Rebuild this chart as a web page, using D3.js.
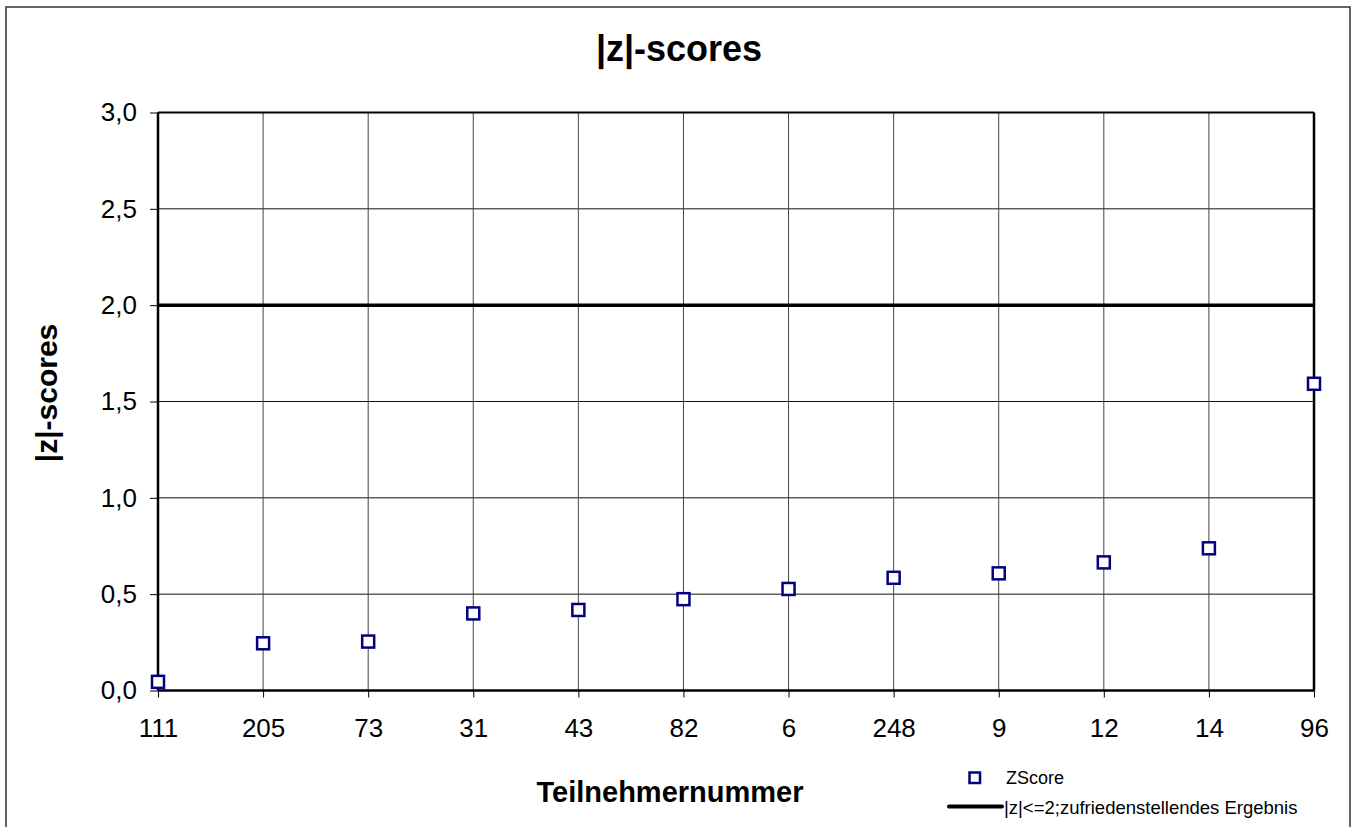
<!DOCTYPE html>
<html>
<head>
<meta charset="utf-8">
<script src="https://cdn.jsdelivr.net/npm/d3@7"></script>
<style>
  body { margin: 0; background: #fff; }
  svg { font-family: "Liberation Sans", Arial, sans-serif; }
</style>
</head>
<body>
<svg id="chart" width="1356" height="827"></svg>
<script>
const participants = ["111", "205", "73", "31", "43", "82", "6", "248", "9", "12", "14", "96"];
const zScores = [0.045, 0.245, 0.254, 0.40, 0.418, 0.474, 0.527, 0.585, 0.608, 0.665, 0.738, 1.592];
const limitValue = 2.0;
const yTicks = [0, 0.5, 1.0, 1.5, 2.0, 2.5, 3.0];

const svg = d3.select("#chart");
const width = 1356;
const height = 827;
const margin = { top: 112.5, right: 42, bottom: 136.5, left: 158 };
const innerWidth = width - margin.left - margin.right;
const innerHeight = height - margin.top - margin.bottom;

// outer chart frame
svg.append("rect")
    .attr("x", 6).attr("y", 7)
    .attr("width", 1344).attr("height", 830)
    .attr("fill", "none")
    .attr("stroke", "#333")
    .attr("stroke-width", 1.5);

const x = d3.scalePoint()
    .domain(participants)
    .range([0, innerWidth]);

const y = d3.scaleLinear()
    .domain([0, 3])
    .range([innerHeight, 0]);

const g = svg.append("g")
    .attr("transform", `translate(${margin.left},${margin.top})`);

// grid
g.append("g")
    .selectAll("line")
    .data(yTicks)
    .join("line")
    .attr("x1", 0).attr("x2", innerWidth)
    .attr("y1", d => y(d)).attr("y2", d => y(d))
    .attr("stroke", "#111")
    .attr("stroke-width", 1);

g.append("g")
    .selectAll("line")
    .data(participants)
    .join("line")
    .attr("x1", d => x(d)).attr("x2", d => x(d))
    .attr("y1", 0).attr("y2", innerHeight)
    .attr("stroke", "#444")
    .attr("stroke-width", 1);

// axes
const fmt = d => d3.format(".1f")(d).replace(".", ",");

const yAxis = g.append("g")
    .call(d3.axisLeft(y).tickValues(yTicks).tickFormat(fmt).tickSize(8).tickPadding(13));
yAxis.select(".domain").remove();
yAxis.selectAll("text").style("font-size", "26px").attr("fill", "#000");
yAxis.selectAll("line").attr("stroke", "#000");

const xAxis = g.append("g")
    .attr("transform", `translate(0,${innerHeight})`)
    .call(d3.axisBottom(x).tickSize(7).tickPadding(21));
xAxis.select(".domain").remove();
xAxis.selectAll("text").style("font-size", "26px").attr("fill", "#000");
xAxis.selectAll("line").attr("stroke", "#000");

// plot frame lines
g.append("line")
    .attr("x1", 0).attr("x2", 0).attr("y1", 0).attr("y2", innerHeight)
    .attr("stroke", "#000").attr("stroke-width", 2.5);
g.append("line")
    .attr("x1", 0).attr("x2", innerWidth).attr("y1", innerHeight).attr("y2", innerHeight)
    .attr("stroke", "#000").attr("stroke-width", 2.5);
g.append("line")
    .attr("x1", 0).attr("x2", innerWidth).attr("y1", 0).attr("y2", 0)
    .attr("stroke", "#000").attr("stroke-width", 2);
g.append("line")
    .attr("x1", innerWidth).attr("x2", innerWidth).attr("y1", 0).attr("y2", innerHeight)
    .attr("stroke", "#000").attr("stroke-width", 2.5);

// limit line
g.append("line")
    .attr("x1", 0).attr("x2", innerWidth)
    .attr("y1", y(limitValue)).attr("y2", y(limitValue))
    .attr("stroke", "#000")
    .attr("stroke-width", 3.5);

// markers
const size = 12;
g.selectAll("rect.pt")
    .data(participants.map((p, i) => ({ p, v: zScores[i] })))
    .join("rect")
    .attr("class", "pt")
    .attr("x", d => x(d.p) - size / 2)
    .attr("y", d => y(d.v) - size / 2)
    .attr("width", size).attr("height", size)
    .attr("fill", "#fff")
    .attr("stroke", "#000080")
    .attr("stroke-width", 2.5);

// title and labels
svg.append("text")
    .attr("x", 679).attr("y", 61)
    .attr("text-anchor", "middle")
    .style("font-size", "36px").style("font-weight", "bold")
    .text("|z|-scores");

svg.append("text")
    .attr("transform", "rotate(-90)")
    .attr("x", -393)
    .attr("y", 57)
    .attr("text-anchor", "middle")
    .style("font-size", "30px").style("font-weight", "bold")
    .text("|z|-scores");

svg.append("text")
    .attr("x", 670).attr("y", 802)
    .attr("text-anchor", "middle")
    .style("font-size", "29px").style("font-weight", "bold")
    .text("Teilnehmernummer");

// legend
const legend = svg.append("g");
legend.append("rect")
    .attr("x", 969.5).attr("y", 772.5)
    .attr("width", 10.5).attr("height", 10.5)
    .attr("fill", "#fff").attr("stroke", "#000080").attr("stroke-width", 2.5);
legend.append("text")
    .attr("x", 1006).attr("y", 784)
    .style("font-size", "18px")
    .text("ZScore");
legend.append("line")
    .attr("x1", 949).attr("x2", 1002)
    .attr("y1", 806.5).attr("y2", 806.5)
    .attr("stroke", "#000").attr("stroke-width", 4).attr("stroke-linecap", "round");
legend.append("text")
    .attr("x", 1004).attr("y", 814)
    .style("font-size", "18.5px")
    .text("|z|<=2;zufriedenstellendes Ergebnis");
</script>
</body>
</html>
